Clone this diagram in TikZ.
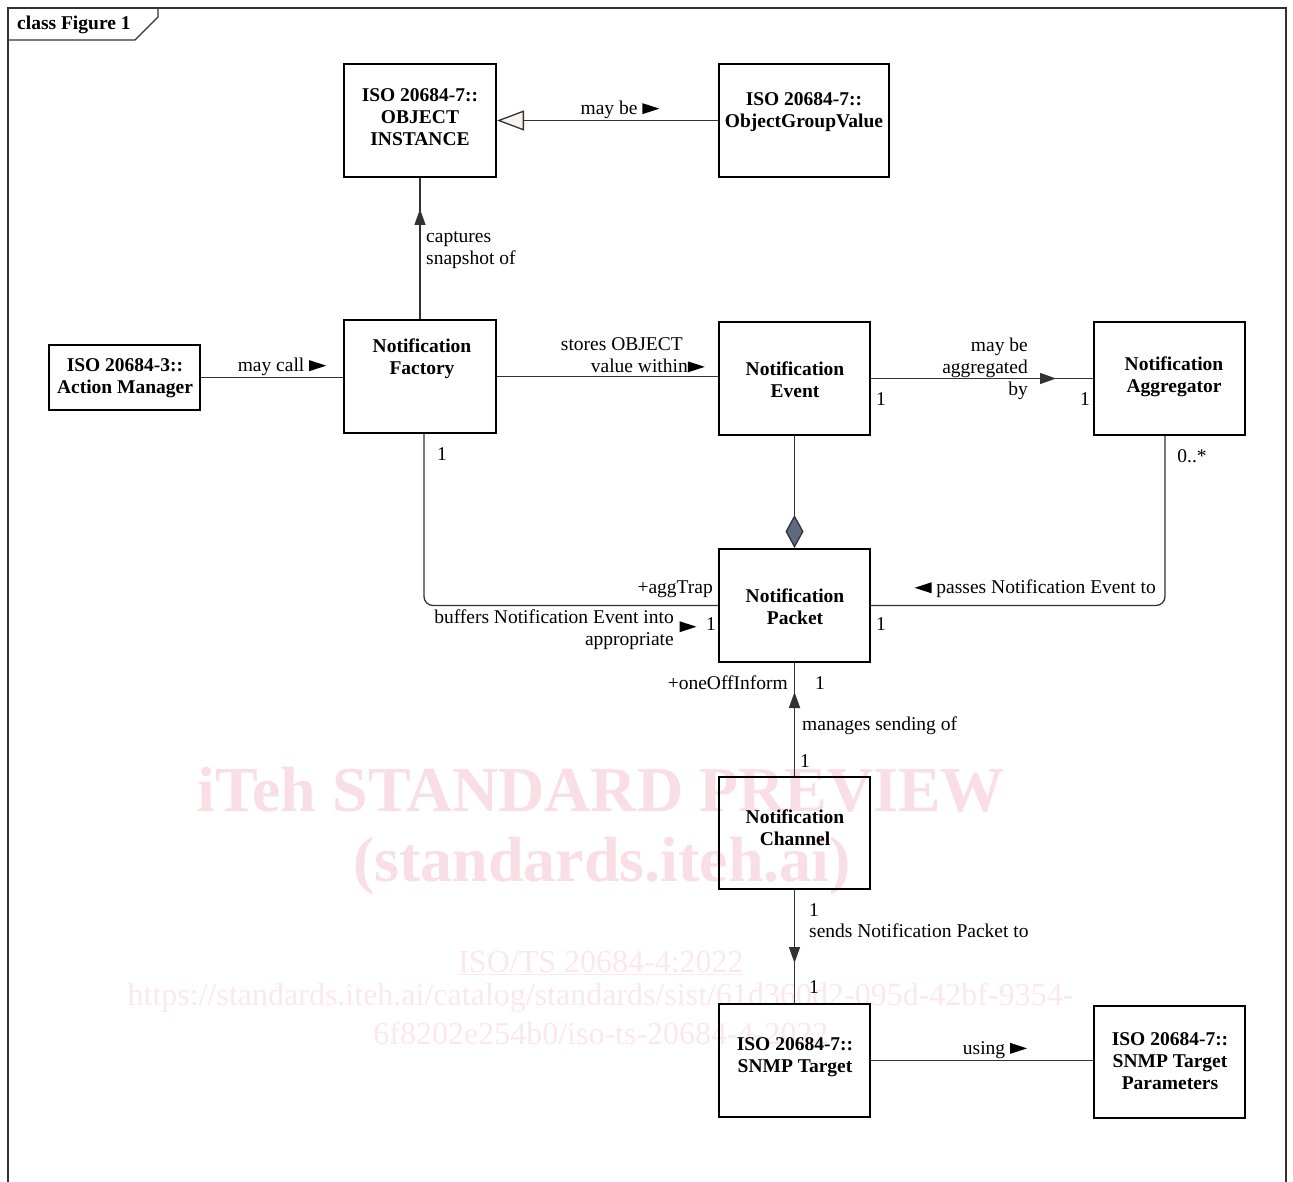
\documentclass[tikz,border=0pt]{standalone}
\usepackage{fontspec}
\setmainfont{Liberation Serif}
\usetikzlibrary{arrows.meta,decorations.markings}
\definecolor{lnc}{RGB}{50,50,50}
\definecolor{wmA}{RGB}{249,222,229}
\definecolor{wmB}{RGB}{251,231,236}
\definecolor{slate}{RGB}{95,106,128}
\definecolor{gentri}{RGB}{250,242,240}
\newcommand\rtri{\tikz[baseline=-0.5pt,x=1pt,y=1pt]\fill[black] (0,0) -- (17,5.5) -- (0,11) -- cycle;}
\newcommand\ltri{\tikz[baseline=-0.5pt,x=1pt,y=1pt]\fill[black] (17,0) -- (0,5.5) -- (17,11) -- cycle;}
\begin{document}
\begin{tikzpicture}[x=1pt,y=-1pt,
 box/.style={draw=black,line width=2pt,rectangle,inner sep=0pt},
 btxt/.style={font=\fontsize{19.5}{22}\selectfont\bfseries,align=center,inner sep=0pt},
 lbl/.style={font=\fontsize{19.5}{22}\selectfont,inner sep=0pt},
 wmbig/.style={font=\fontsize{64}{64}\selectfont\bfseries,text=wmA,inner sep=0pt},
 wmsmall/.style={font=\fontsize{32}{35}\selectfont,text=wmB,inner sep=0pt},
 conn/.style={draw=lnc,line width=1.3pt},
 midarrow/.style={postaction={decorate},decoration={markings,mark=at position #1 with {\arrow{Triangle[length=16pt,width=11pt]}}}},
]
\useasboundingbox (0,0) rectangle (1293,1182);
% watermark
\node[wmbig] (wm1) at (601.5,790) {iTeh STANDARD PREVIEW};
\node[wmbig] (wm2) at (602,866) {(standards.iteh.ai)};
\node[wmsmall] (wm3) at (601,963) {\underline{ISO/TS 20684-4:2022}};
\node[wmsmall] (wm4) at (600.5,998) {https://standards.iteh.ai/catalog/standards/sist/61d360d2-095d-42bf-9354-};
\node[wmsmall] (wm5) at (601,1033) {6f8202e254b0/iso-ts-20684-4-2022};
% frame
\draw[line width=1.2pt,draw=lnc] (8,1200) -- (8,8) -- (1286,8) -- (1286,1200);
\draw[line width=1.2pt,draw=lnc] (8,40) -- (135,40) -- (158,17) -- (158,8);
\node[btxt,anchor=west] (title) at (17,25) {class Figure 1};
% boxes
\node[box,minimum width=152pt,minimum height=113pt] (obj) at (420,120.5) {};
\node[box,minimum width=170pt,minimum height=113pt] (ogv) at (804,120.5) {};
\node[box,minimum width=151pt,minimum height=65pt] (am) at (124.5,377.5) {};
\node[box,minimum width=152pt,minimum height=113pt] (fac) at (420,376.5) {};
\node[box,minimum width=151pt,minimum height=113pt] (evt) at (794.5,378.5) {};
\node[box,minimum width=151pt,minimum height=113pt] (agg) at (1169.5,378.5) {};
\node[box,minimum width=151pt,minimum height=113pt] (pkt) at (794.5,605.5) {};
\node[box,minimum width=151pt,minimum height=112pt] (chn) at (794.5,833) {};
\node[box,minimum width=151pt,minimum height=113pt] (snmp) at (794.5,1060.5) {};
\node[box,minimum width=151pt,minimum height=112pt] (par) at (1169.5,1062) {};
% box texts
\node[btxt] (objT) at (420,117) {ISO 20684-7::\\OBJECT\\INSTANCE};
\node[btxt] (ogvT) at (804,112) {ISO 20684-7::\\ObjectGroupValue};
\node[btxt] (amT) at (125,378) {ISO 20684-3::\\Action Manager};
\node[btxt] (facT) at (422,358.5) {Notification\\Factory};
\node[btxt] (evtT) at (795,380) {Notification\\Event};
\node[btxt] (aggT) at (1174,376.5) {Notification\\Aggregator};
\node[btxt] (pktT) at (795,606.5) {Notification\\Packet};
\node[btxt] (chnT) at (795,828) {Notification\\Channel};
\node[btxt] (snmpT) at (795,1057) {ISO 20684-7::\\SNMP Target};
\node[btxt] (parT) at (1170,1061.5) {ISO 20684-7::\\SNMP Target\\Parameters};
% connectors
\draw[conn,-{Triangle[open,length=27pt,width=20pt,fill=gentri]}] (ogv.west) -- (obj.east);
\draw[conn,midarrow=110pt] (fac.north) -- (obj.south);
\draw[conn] (am.east) -- (am.east -| fac.west);
\draw[conn] (fac.east) -- (fac.east -| evt.west);
\draw[conn,midarrow=185pt] (evt.east) -- (agg.west);
\draw[conn,-{Diamond[length=33pt,width=18pt,fill=slate]}] (evt.south) -- (pkt.north);
\draw[conn,rounded corners=9pt] ([xshift=4pt]fac.south) |- (pkt.west);
\draw[conn,rounded corners=9pt] ([xshift=-4.5pt]agg.south) |- (pkt.east);
\draw[conn,line width=1.8pt,midarrow=84pt] (chn.north) -- (pkt.south);
\draw[conn,line width=1.5pt,midarrow=73pt] (chn.south) -- (snmp.north);
\draw[conn] (snmp.east) -- (snmp.east -| par.west);
% labels
\node[lbl] (l1) at (620,110) {may be \rtri};
\node[lbl,anchor=west,align=left] (l2) at (426,250) {captures\\snapshot of};
\node[lbl] (l3) at (282,367) {may call \rtri};
\node[lbl,anchor=east,align=right] (l4) at (705,355.5) {stores OBJECT\hspace*{22pt}\\value within\rtri};
\node[lbl,anchor=east,align=right] (l5) at (1028,369) {may be\\aggregated\\by};
\node[lbl] (m1) at (881,399) {1};
\node[lbl] (m2) at (1085,399) {1};
\node[lbl] (m3) at (442,454) {1};
\node[lbl,anchor=east] (l6) at (713,589) {+aggTrap};
\node[lbl,anchor=east,align=right] (l7) at (674,630) {buffers Notification Event into\\appropriate};
\node[lbl] (l7a) at (688,627) {\rtri};
\node[lbl] (m4) at (711,624) {1};
\node[lbl,anchor=east] (l8) at (1156,589) {\ltri\ passes Notification Event to};
\node[lbl] (m5) at (1192,456) {0..*};
\node[lbl] (m6) at (881,624) {1};
\node[lbl,anchor=east] (l9) at (788,683) {+oneOffInform};
\node[lbl] (m7) at (820,683) {1};
\node[lbl,anchor=west] (l10) at (802,726) {manages sending of};
\node[lbl] (m8) at (805,761) {1};
\node[lbl] (m9) at (814,910) {1};
\node[lbl,anchor=west] (l11) at (809,931) {sends Notification Packet to};
\node[lbl] (m10) at (814,987) {1};
\node[lbl] (l12) at (995,1050) {using \rtri};
\end{tikzpicture}
\end{document}
